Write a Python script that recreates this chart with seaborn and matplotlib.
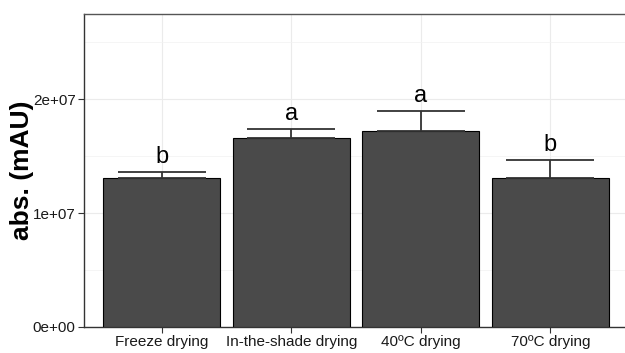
import matplotlib
matplotlib.use("Agg")
import matplotlib.pyplot as plt
import seaborn as sns
import pandas as pd
import numpy as np
from matplotlib.ticker import MultipleLocator

categories = ["Freeze drying", "In-the-shade drying", "40ºC drying", "70ºC drying"]
means = [1.31e7, 1.658e7, 1.722e7, 1.31e7]
errors = [0.047e7, 0.082e7, 0.170e7, 0.155e7]
letters = ["b", "a", "a", "b"]
yticks = [0, 1e7, 2e7]
ytick_labels = ["0e+00", "1e+07", "2e+07"]

sns.set_theme(style="white")
plt.rcParams['font.family'] = ['Liberation Sans', 'DejaVu Sans']

df = pd.DataFrame({"method": categories, "abs": means})

fig = plt.figure(figsize=(6.25, 3.53), dpi=100)
ax = fig.add_axes([84/625, 26/353, 544/625, 313/353])

sns.barplot(data=df, x="method", y="abs", order=categories, color="#4a4a4a",
            saturation=1, width=0.9, edgecolor="black", linewidth=0.8, ax=ax, zorder=3)

pos = np.arange(len(categories))
ax.errorbar(pos, means, yerr=[np.zeros(len(errors)), errors], fmt="none",
            ecolor="#333333", elinewidth=1.3, capsize=32, capthick=1.3, zorder=4)

for p, m, e, l in zip(pos, means, errors, letters):
    ax.annotate(l, (p, m + e), xytext=(0, 3), textcoords="offset points",
                ha="center", va="bottom", fontsize=17, color="black")

ax.set_xlim(-0.6, len(categories) - 0.4)
ax.set_ylim(0, 2.746e7)
ax.set_yticks(yticks)
ax.set_yticklabels(ytick_labels)
ax.yaxis.set_minor_locator(MultipleLocator(0.5e7))
ax.grid(True, which="major", color="#ebebeb", linewidth=0.8, zorder=0)
ax.grid(True, which="minor", axis="y", color="#f2f2f2", linewidth=0.5, zorder=0)
ax.set_axisbelow(True)

for s in ax.spines.values():
    s.set_color("#555555")
    s.set_linewidth(1.0)
ax.spines["left"].set_color("#333333")
ax.spines["bottom"].set_color("#333333")

ax.tick_params(axis="both", which="major", length=4, width=0.8, color="#333333",
               labelsize=11, labelcolor="#1a1a1a", pad=2, left=True, bottom=True)
ax.tick_params(axis="y", which="minor", length=0)

ax.set_xlabel("")
ax.set_ylabel("abs. (mAU)", fontsize=19, fontweight="bold", labelpad=-1, color="black")

fig.savefig("out.png", dpi=100)
